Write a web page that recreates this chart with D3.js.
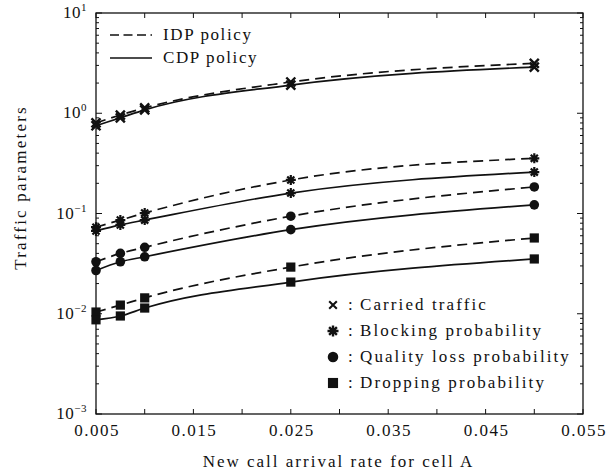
<!DOCTYPE html>
<html>
<head>
<meta charset="utf-8">
<script src="https://cdn.jsdelivr.net/npm/d3@7"></script>
<style>
  body { margin: 0; background: #fff; }
  text { font-family: "Liberation Serif", "DejaVu Serif", serif; fill: #111; }
</style>
</head>
<body>
<div id="chart"></div>
<script>
//Datos
const rates = [0.005, 0.0075, 0.01, 0.025, 0.05];

const carriedIDP = [0.80, 0.96, 1.13, 2.05, 3.15];
const carriedCDP = [0.75, 0.90, 1.08, 1.91, 2.89];
const blockingIDP = [0.073, 0.086, 0.101, 0.216, 0.355];
const blockingCDP = [0.067, 0.077, 0.086, 0.160, 0.259];
const qualityIDP = [0.033, 0.040, 0.046, 0.094, 0.184];
const qualityCDP = [0.027, 0.033, 0.037, 0.069, 0.122];
const droppingIDP = [0.0104, 0.0122, 0.0144, 0.0292, 0.057];
const droppingCDP = [0.0087, 0.0095, 0.0114, 0.0207, 0.0352];

const xTickLabels = [0.005, 0.015, 0.025, 0.035, 0.045, 0.055];
const yDecades = [1, 0, -1, -2, -3];

const policyNames = ['IDP policy', 'CDP policy'];
const markerNames = ['Carried traffic', 'Blocking probability', 'Quality loss probability', 'Dropping probability'];

//Series
const series = [
    {values: carriedIDP, dash: true, marker: 'x'},
    {values: carriedCDP, dash: false, marker: 'x'},
    {values: blockingIDP, dash: true, marker: 'star'},
    {values: blockingCDP, dash: false, marker: 'star'},
    {values: qualityIDP, dash: true, marker: 'circle'},
    {values: qualityCDP, dash: false, marker: 'circle'},
    {values: droppingIDP, dash: true, marker: 'square'},
    {values: droppingCDP, dash: false, marker: 'square'}
];

let margin = {top: 13, right: 31, bottom: 60, left: 96},
    width = 614 - margin.left - margin.right,
    height = 474 - margin.top - margin.bottom;

let svg = d3.select('#chart')
    .append('svg')
        .attr('width', 614)
        .attr('height', 474)
    .append('g')
        .attr('transform', 'translate(' + margin.left + ',' + margin.top + ')');

let x = d3.scaleLinear()
    .domain([0.005, 0.055])
    .range([0, width]);

let y = d3.scaleLog()
    .domain([1e-3, 10])
    .range([height, 0]);

const DASH = '10,6';
const FONT = '17px';

//Ticks internos
let xTicks = d3.range(0, 11).map(function(i) { return 0.005 + i * 0.005; });
let minorY = [];
[-3, -2, -1, 0].forEach(function(e) {
    for (let k = 2; k <= 9; k++) { minorY.push(k * Math.pow(10, e)); }
});

let ticks = svg.append('g').attr('stroke', '#111').attr('stroke-width', 1);

xTicks.forEach(function(t) {
    ticks.append('line').attr('x1', x(t)).attr('x2', x(t)).attr('y1', height).attr('y2', height - 5);
    ticks.append('line').attr('x1', x(t)).attr('x2', x(t)).attr('y1', 0).attr('y2', 5);
});
yDecades.forEach(function(e) {
    let yy = y(Math.pow(10, e));
    ticks.append('line').attr('x1', 0).attr('x2', 6).attr('y1', yy).attr('y2', yy);
    ticks.append('line').attr('x1', width).attr('x2', width - 6).attr('y1', yy).attr('y2', yy);
});
minorY.forEach(function(v) {
    let yy = y(v);
    ticks.append('line').attr('x1', 0).attr('x2', 3).attr('y1', yy).attr('y2', yy);
    ticks.append('line').attr('x1', width).attr('x2', width - 3).attr('y1', yy).attr('y2', yy);
});

//Marco
svg.append('rect')
    .attr('width', width)
    .attr('height', height)
    .attr('fill', 'none')
    .attr('stroke', '#111')
    .attr('stroke-width', 1.3);

//Etiquetas eje X
svg.append('g')
    .selectAll('text')
    .data(xTickLabels)
    .enter()
    .append('text')
    .attr('x', function(d) { return x(d) + 1; })
    .attr('y', height + 22)
    .attr('text-anchor', 'middle')
    .style('font-size', FONT)
    .style('letter-spacing', '1.5px')
    .text(function(d) { return d3.format('.3f')(d); });

//Etiquetas eje Y
let yl = svg.append('g')
    .selectAll('text')
    .data(yDecades)
    .enter()
    .append('text')
    .attr('x', -9)
    .attr('y', function(d) { return y(Math.pow(10, d)) + 5; })
    .attr('text-anchor', 'end')
    .style('font-size', FONT)
    .style('letter-spacing', '0.5px');
yl.append('tspan').text('10');
yl.append('tspan')
    .attr('dy', -7)
    .style('font-size', '11px')
    .text(function(d) { return d < 0 ? '\u2212' + Math.abs(d) : d; });

//Títulos
svg.append('text')
    .attr('x', width / 2 - 1)
    .attr('y', height + 53)
    .attr('text-anchor', 'middle')
    .style('font-size', FONT)
    .style('letter-spacing', '2px')
    .text('New call arrival rate for cell A');

svg.append('text')
    .attr('transform', 'translate(' + (-70) + ',' + (height / 2 - 26) + ') rotate(-90)')
    .attr('text-anchor', 'middle')
    .style('font-size', FONT)
    .style('letter-spacing', '2.2px')
    .text('Traffic parameters');

//Líneas
let line = d3.line()
    .x(function(d, i) { return x(rates[i]); })
    .y(function(d) { return y(d); })
    .curve(d3.curveMonotoneX);

svg.append('g')
    .selectAll('path')
    .data(series)
    .enter()
    .append('path')
    .attr('d', function(d) { return line(d.values); })
    .attr('fill', 'none')
    .attr('stroke', '#111')
    .attr('stroke-width', 1.7)
    .attr('stroke-dasharray', function(d) { return d.dash ? DASH : null; });

//Marcadores
function drawMarker(g, type, size) {
    let s = size || 1;
    if (type === 'x') {
        let r = 4.5 * s;
        g.append('path')
            .attr('d', 'M' + (-r) + ',' + (-r) + 'L' + r + ',' + r + 'M' + (-r) + ',' + r + 'L' + r + ',' + (-r))
            .attr('stroke', '#111').attr('stroke-width', 2.4 * s);
    } else if (type === 'star') {
        let r = 5 * s, p = '';
        for (let k = 0; k < 4; k++) {
            let a = k * Math.PI / 4;
            p += 'M' + (-r * Math.sin(a)) + ',' + (-r * Math.cos(a)) + 'L' + (r * Math.sin(a)) + ',' + (r * Math.cos(a));
        }
        g.append('path').attr('d', p).attr('stroke', '#111').attr('stroke-width', 2.2 * s);
    } else if (type === 'circle') {
        g.append('circle').attr('r', 4.8 * s).attr('fill', '#111');
    } else {
        let h = 4.6 * s;
        g.append('rect').attr('x', -h).attr('y', -h).attr('width', 2 * h).attr('height', 2 * h).attr('fill', '#111');
    }
}

series.forEach(function(sr) {
    sr.values.forEach(function(v, i) {
        let g = svg.append('g').attr('transform', 'translate(' + x(rates[i]) + ',' + y(v) + ')');
        drawMarker(g, sr.marker);
    });
});

//Leyenda de políticas
let lg = svg.append('g').attr('transform', 'translate(14,0)');
policyNames.forEach(function(name, i) {
    let yy = 22 + i * 23;
    lg.append('line')
        .attr('x1', 0).attr('x2', 42)
        .attr('y1', yy).attr('y2', yy)
        .attr('stroke', '#111')
        .attr('stroke-width', 1.7)
        .attr('stroke-dasharray', i === 0 ? '9,4.5' : null);
    lg.append('text')
        .attr('x', 53)
        .attr('y', yy + 5)
        .style('font-size', FONT)
        .style('letter-spacing', '1.6px')
        .text(name);
});

//Leyenda de marcadores
let markerTypes = ['x', 'star', 'circle', 'square'];
let ml = svg.append('g').attr('transform', 'translate(237,292)');
markerNames.forEach(function(name, i) {
    let yy = i * 26;
    let g = ml.append('g').attr('transform', 'translate(0,' + yy + ')');
    drawMarker(g, markerTypes[i], i === 0 ? 0.85 : 1.1);
    ml.append('text')
        .attr('x', 15)
        .attr('y', yy + 5)
        .style('font-size', FONT)
        .text(':');
    ml.append('text')
        .attr('x', 27)
        .attr('y', yy + 5)
        .style('font-size', FONT)
        .style('letter-spacing', '2.1px')
        .text(name);
});
</script>
</body>
</html>
